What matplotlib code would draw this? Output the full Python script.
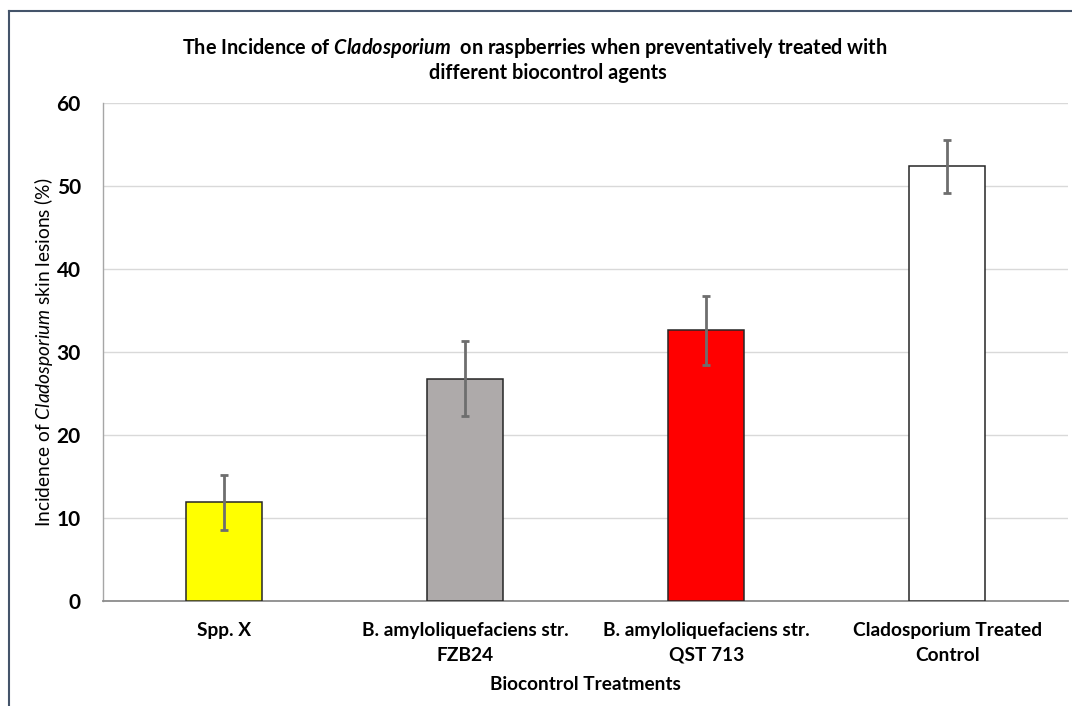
import matplotlib
matplotlib.use("Agg")
from matplotlib import pyplot as plt
from matplotlib.lines import Line2D

# data
treatments = ["Spp. X", "B. amyloliquefaciens str.\nFZB24",
              "B. amyloliquefaciens str.\nQST 713", "Cladosporium Treated\nControl"]
incidence = [11.9, 26.8, 32.6, 52.4]
errors = [3.3, 4.5, 4.15, 3.2]
bar_colors = ["#FFFF00", "#AEAAAA", "#FF0000", "#FFFFFF"]

plt.rcParams["font.family"] = ["Lato", "DejaVu Sans"]
plt.rcParams["mathtext.fontset"] = "custom"
plt.rcParams["mathtext.it"] = "Lato:italic"
plt.rcParams["mathtext.bfit"] = "Lato:italic:bold"

fig = plt.figure(figsize=(10.72, 7.06), dpi=100)
ax = fig.add_axes([0.0961, 0.1487, 0.9002, 0.7054])

x = range(len(treatments))
ax.bar(x, incidence, width=0.315, color=bar_colors, edgecolor="#262626", linewidth=1.1, zorder=3)
ax.errorbar(x, incidence, yerr=errors, fmt="none", ecolor="#6E6E6E", elinewidth=2,
            capsize=3, capthick=2, zorder=4)

ax.set_xlim(-0.5, len(treatments) - 0.5)
ax.set_ylim(0, 60)
ax.set_yticks(range(0, 61, 10))
ax.set_xticks(list(x))
ax.set_xticklabels(treatments, fontsize=13.8, fontweight="bold", linespacing=1.55)
for lab in ax.get_yticklabels():
    lab.set_fontweight("bold")
    lab.set_fontsize(15)
ax.tick_params(axis="y", length=0, pad=16)
ax.tick_params(axis="x", length=0, pad=15)

ax.grid(axis="y", color="#D9D9D9", linewidth=1, zorder=0)
for side in ["top", "right"]:
    ax.spines[side].set_visible(False)
ax.spines["left"].set_color("#A6A6A6")
ax.spines["bottom"].set_color("#8C8C8C")
ax.spines["left"].set_linewidth(1)
ax.spines["bottom"].set_linewidth(1.3)

ax.set_ylabel(r"Incidence of $\mathit{Cladosporium}$ skin lesions (%)", fontsize=13.8, labelpad=1)
ax.set_xlabel("Biocontrol Treatments", fontsize=13.7, fontweight="bold", labelpad=9)

fig.text(0.499, 0.932, r"The Incidence of $\mathbfit{Cladosporium}$  on raspberries when preventatively treated with",
         ha="center", va="center", fontsize=14.3, fontweight="bold")
fig.text(0.511, 0.897, "different biocontrol agents",
         ha="center", va="center", fontsize=14.3, fontweight="bold")

# outer frame of the chart area
fig.add_artist(Line2D([0.0080, 0.0080], [0.0, 0.985], transform=fig.transFigure,
                      color="#44546A", linewidth=1.5))
fig.add_artist(Line2D([0.0080, 1.0], [0.985, 0.985], transform=fig.transFigure,
                      color="#44546A", linewidth=1.5))

fig.savefig("out.png", dpi=100)
